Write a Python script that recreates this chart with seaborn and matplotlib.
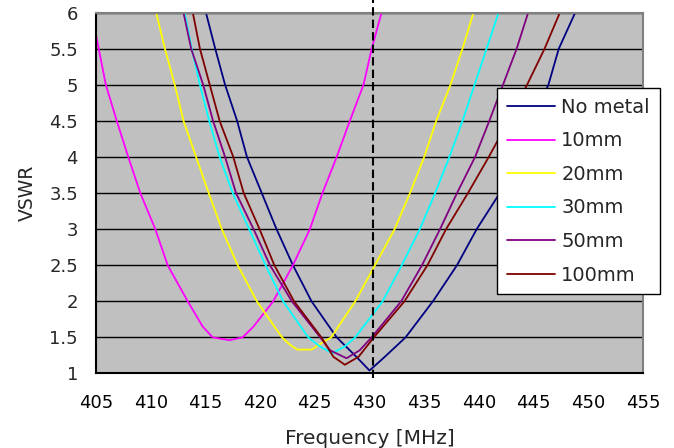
import matplotlib
matplotlib.use("Agg")
import matplotlib.pyplot as plt
from matplotlib.lines import Line2D
import seaborn as sns
import pandas as pd

# ---- data ----
series_names = ["No metal", "10mm", "20mm", "30mm", "50mm", "100mm"]
series_colors = ["#000080", "#FF00FF", "#FFFF00", "#00FFFF", "#800080", "#800000"]

freq_nometal = [415.05, 415.9, 416.8, 417.9, 418.8, 420.15, 421.5, 423.0, 424.7, 427.0, 428.8,
                430.0, 431.4, 433.3, 435.8, 438.0, 439.8, 441.7, 446.35, 447.3, 448.8]
vswr_nometal = [6.0, 5.5, 5.0, 4.5, 4.0, 3.5, 3.0, 2.5, 2.0, 1.5, 1.23,
                1.04, 1.23, 1.5, 2.0, 2.5, 3.0, 3.45, 5.0, 5.5, 6.0]

freq_10mm = [405.0, 405.25, 405.9, 406.9, 407.95, 409.05, 410.42, 411.55, 413.38, 414.75, 415.66,
             417.2, 418.4, 419.4, 421.2, 423.0, 424.55, 425.7, 427.0, 428.2, 429.45, 430.2, 431.1]
vswr_10mm = [5.69, 5.5, 5.0, 4.5, 4.0, 3.5, 3.0, 2.5, 2.0, 1.65, 1.5,
             1.46, 1.5, 1.65, 2.0, 2.5, 3.0, 3.5, 4.0, 4.5, 5.0, 5.5, 6.0]

freq_20mm = [410.5, 411.3, 412.2, 413.0, 414.15, 415.3, 416.5, 417.95, 419.7, 422.0, 422.7, 423.4,
             424.7, 425.4, 426.5, 428.7, 430.5, 432.3, 433.7, 435.0, 436.1, 437.4, 438.5, 439.5]
vswr_20mm = [6.0, 5.5, 5.0, 4.5, 4.0, 3.5, 3.0, 2.5, 2.0, 1.5, 1.4, 1.33,
             1.33, 1.4, 1.5, 2.0, 2.5, 3.0, 3.5, 4.0, 4.5, 5.0, 5.5, 6.0]

freq_30mm = [413.1, 413.75, 414.5, 415.35, 416.3, 417.5, 419.0, 420.5, 422.1, 424.4, 425.5,
             426.6, 427.7, 428.7, 431.2, 432.95, 434.6, 436.0, 437.3, 438.5, 439.6, 440.7, 441.8]
vswr_30mm = [6.0, 5.5, 5.0, 4.5, 4.0, 3.5, 3.0, 2.5, 2.0, 1.5, 1.37,
             1.28, 1.37, 1.5, 2.0, 2.5, 3.0, 3.5, 4.0, 4.5, 5.0, 5.5, 6.0]

freq_50mm = [413.0, 413.7, 414.8, 415.7, 416.8, 417.8, 419.4, 420.9, 422.9, 425.5, 426.4,
             427.9, 429.1, 430.2, 432.9, 434.8, 436.45, 438.0, 439.65, 440.95, 442.2, 443.45, 444.5]
vswr_50mm = [6.0, 5.5, 5.0, 4.5, 4.0, 3.5, 3.0, 2.5, 2.0, 1.5, 1.32,
             1.21, 1.32, 1.5, 2.0, 2.5, 3.0, 3.5, 4.0, 4.5, 5.0, 5.5, 6.0]

freq_100mm = [413.85, 414.5, 415.4, 416.3, 417.55, 418.5, 419.95, 421.3, 423.1, 425.6, 426.7,
              427.75, 429.0, 430.4, 433.2, 435.3, 437.0, 439.0, 440.9, 442.7, 444.4, 446.0, 447.4]
vswr_100mm = [6.0, 5.5, 5.0, 4.5, 4.0, 3.5, 3.0, 2.5, 2.0, 1.5, 1.23,
              1.12, 1.23, 1.5, 2.0, 2.5, 3.0, 3.5, 4.0, 4.5, 5.0, 5.5, 6.0]

marker_freq = 430.35  # dashed reference line

x_ticks = [405, 410, 415, 420, 425, 430, 435, 440, 445, 450, 455]
y_ticks = [1, 1.5, 2, 2.5, 3, 3.5, 4, 4.5, 5, 5.5, 6]
y_tick_labels = ["1", "1.5", "2", "2.5", "3", "3.5", "4", "4.5", "5", "5.5", "6"]

# ---- build long table ----
all_freqs = [freq_nometal, freq_10mm, freq_20mm, freq_30mm, freq_50mm, freq_100mm]
all_vswr = [vswr_nometal, vswr_10mm, vswr_20mm, vswr_30mm, vswr_50mm, vswr_100mm]
rows = []
for name, fr, vs in zip(series_names, all_freqs, all_vswr):
    for f, v in zip(fr, vs):
        rows.append({"series": name, "freq": f, "vswr": v})
df = pd.DataFrame(rows)

sns.set_style("white")
plt.rcParams["font.family"] = ["DejaVu Sans"]

fig = plt.figure(figsize=(6.74, 4.48), dpi=100)
ax = fig.add_axes([96 / 674, 1 - 373.4 / 448, (643 - 96) / 674, (373.4 - 12.7) / 448])
ax.set_facecolor("#C0C0C0")

ax.set_xlim(405, 455)
ax.set_ylim(1, 6)
ax.set_yticks(y_ticks)
ax.set_yticklabels(y_tick_labels)
ax.set_xticks(x_ticks)
ax.yaxis.grid(True, color="black", linewidth=1.0)
ax.xaxis.grid(False)
ax.set_axisbelow(True)

palette = dict(zip(series_names, series_colors))
sns.lineplot(data=df, x="freq", y="vswr", hue="series", palette=palette,
             hue_order=series_names, estimator=None, units="series", sort=False,
             linewidth=1.3, legend=False, ax=ax)

ax.axvline(marker_freq, ymin=-0.013, ymax=1.035, color="black", linewidth=1.5,
           linestyle=(0, (4, 2)), clip_on=False, zorder=5)

for s in ["left", "bottom"]:
    ax.spines[s].set_color("black")
    ax.spines[s].set_linewidth(1.5)
for s in ["top", "right"]:
    ax.spines[s].set_color("#808080")
    ax.spines[s].set_linewidth(1.5)

ax.tick_params(axis="x", direction="in", length=6, width=1.2, colors="black",
               labelsize=13, pad=15)
ax.tick_params(axis="y", direction="in", length=0, labelsize=13, pad=13)

ax.set_xlabel("Frequency [MHz]", fontsize=14.5, labelpad=12)
ax.set_ylabel("VSWR", fontsize=13.5, labelpad=9)

handles = [Line2D([0], [0], color=c, linewidth=1.3) for c in series_colors]
leg = ax.legend(handles, series_names, loc="upper left",
                bbox_to_anchor=(497 / 674, 1 - 88 / 448), bbox_transform=fig.transFigure,
                borderaxespad=0, frameon=True, fancybox=False, shadow=False,
                fontsize=14, handlelength=2.5, handletextpad=0.3,
                labelspacing=0.75, borderpad=0.5)
leg.get_frame().set_edgecolor("black")
leg.get_frame().set_linewidth(1.0)
leg.get_frame().set_facecolor("white")
leg.get_frame().set_alpha(1.0)
leg.set_zorder(10)

fig.savefig("out.png", dpi=100, facecolor="white")
